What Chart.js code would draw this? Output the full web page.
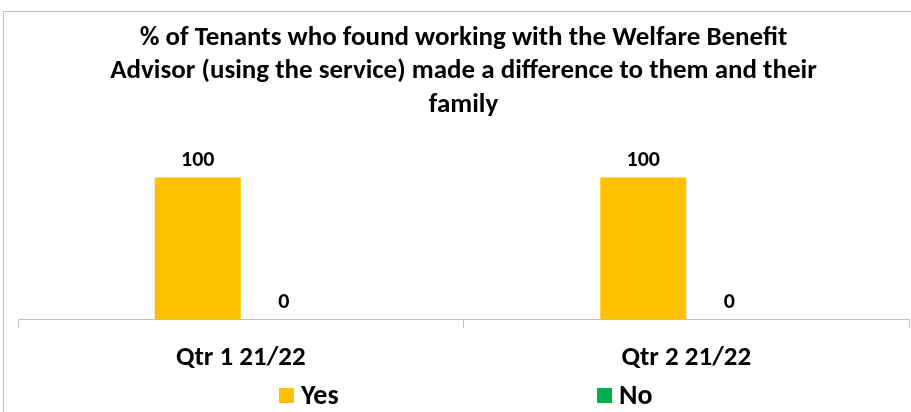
<!DOCTYPE html>
<html>
<head>
<meta charset="utf-8">
<script src="https://cdn.jsdelivr.net/npm/chart.js@4/dist/chart.umd.min.js"></script>
<style>
    html, body { margin: 0; padding: 0; background: #fff; overflow: hidden; }
    #wrap { position: relative; width: 911px; height: 412px; }
    #frame {
        position: absolute; left: 3px; top: 11px; right: -5px; bottom: -5px;
        border-left: 1px solid #bfbfbf; border-top: 1px solid #bfbfbf;
        pointer-events: none;
    }
    canvas { position: absolute; left: 0; top: 0; }
</style>
</head>
<body>
<div id="wrap">
    <canvas id="chart" width="911" height="412"></canvas>
    <div id="frame"></div>
</div>
<script>
// Données du graphique
const quarters = ['Qtr 1 21/22', 'Qtr 2 21/22'];
const yesValues = [100, 100];
const noValues = [0, 0];
const titleLines = [
    '% of Tenants who found working with the Welfare Benefit',
    'Advisor (using the service) made a difference to them and their',
    'family'
];

const FONT = "Carlito, 'Liberation Sans Narrow', 'Open Sans', sans-serif";

// Étiquettes de valeur au-dessus de chaque barre
const valueLabels = {
    id: 'valueLabels',
    afterDatasetsDraw(chart) {
        const ctx = chart.ctx;
        ctx.save();
        ctx.font = `bold 22px ${FONT}`;
        ctx.fillStyle = '#000';
        ctx.textAlign = 'center';
        ctx.textBaseline = 'middle';
        chart.data.datasets.forEach((ds, i) => {
            chart.getDatasetMeta(i).data.forEach((bar, j) => {
                ctx.fillText(String(ds.data[j]), bar.x, bar.y - 17);
            });
        });
        ctx.restore();
    }
};

// Légende façon Excel : entrées espacées sous l'axe
const spreadLegend = {
    id: 'spreadLegend',
    afterDraw(chart) {
        const ctx = chart.ctx;
        const xs = [279, 597];
        ctx.save();
        ctx.font = `bold 28px ${FONT}`;
        ctx.textBaseline = 'middle';
        chart.data.datasets.forEach((ds, i) => {
            ctx.fillStyle = ds.backgroundColor;
            ctx.fillRect(xs[i], 388, 15, 15);
            ctx.fillStyle = '#000';
            ctx.fillText(ds.label, xs[i] + 22, 397);
        });
        ctx.restore();
    }
};

new Chart(document.getElementById('chart'), {
    type: 'bar',
    data: {
        labels: quarters,
        datasets: [
            { label: 'Yes', data: yesValues, backgroundColor: '#FFC000' },
            { label: 'No', data: noValues, backgroundColor: '#00B050' }
        ]
    },
    options: {
        responsive: false,
        animation: false,
        layout: { padding: { left: 18, right: 2, top: 0, bottom: 24 } },
        datasets: {
            bar: { categoryPercentage: 0.386, barPercentage: 1 }
        },
        plugins: {
            legend: { display: false },
            tooltip: { enabled: false },
            title: {
                display: true,
                text: titleLines,
                color: '#000',
                font: { family: FONT, size: 27, weight: 'bold', lineHeight: 1.25 },
                padding: { top: 21, bottom: 55 }
            }
        },
        scales: {
            x: {
                grid: {
                    drawOnChartArea: false,
                    color: '#bfbfbf',
                    tickLength: 8
                },
                border: { color: '#bfbfbf', width: 1 },
                ticks: {
                    color: '#000',
                    padding: 14,
                    font: { family: FONT, size: 27, weight: 'bold' }
                }
            },
            y: {
                display: false,
                min: 0,
                max: 100
            }
        }
    },
    plugins: [valueLabels, spreadLegend]
});
</script>
</body>
</html>
